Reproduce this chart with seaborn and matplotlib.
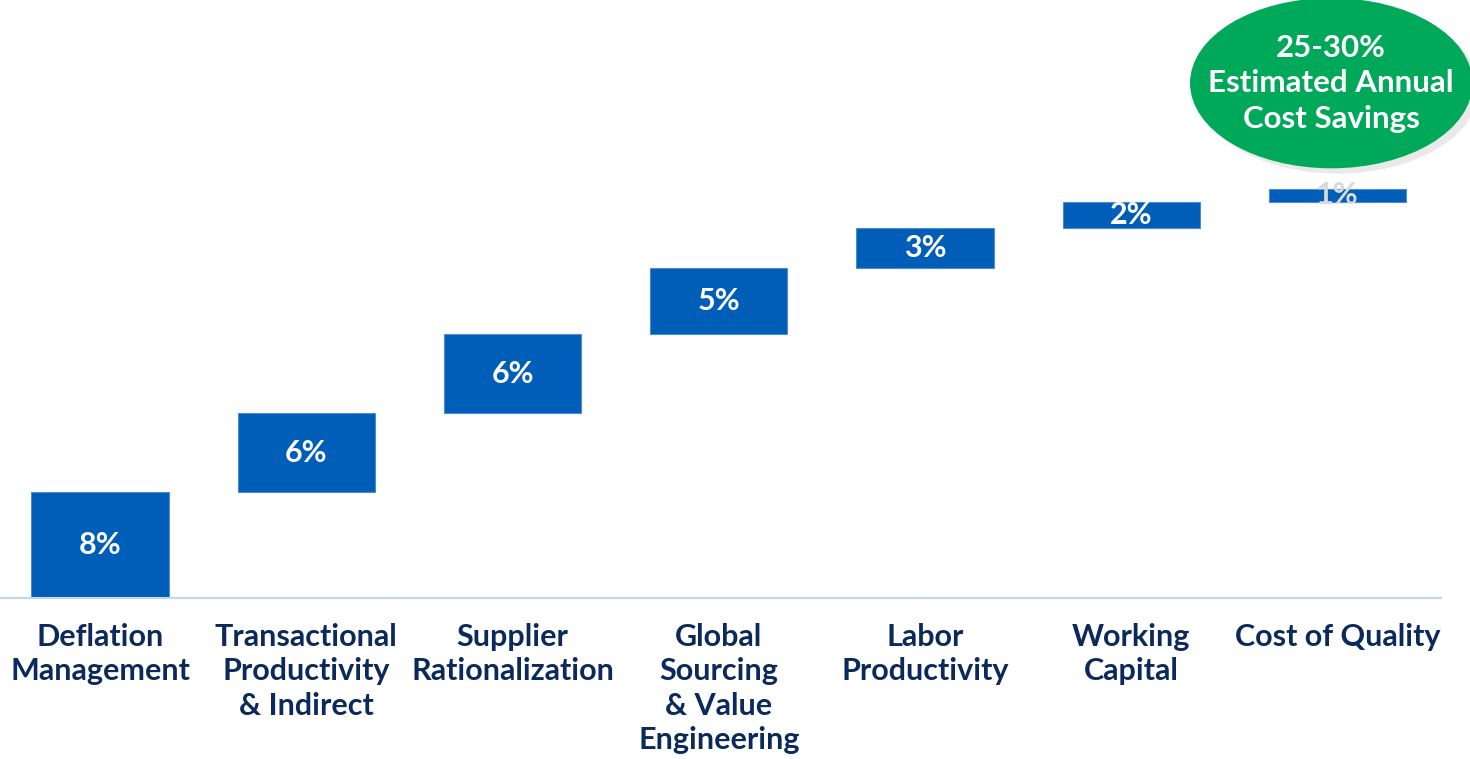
import numpy as np
import pandas as pd
import matplotlib
matplotlib.use("Agg")
import matplotlib.pyplot as plt
import seaborn as sns
from matplotlib.patches import Ellipse

categories = ["Deflation\nManagement", "Transactional\nProductivity\n& Indirect",
              "Supplier\nRationalization", "Global\nSourcing\n& Value\nEngineering",
              "Labor\nProductivity", "Working\nCapital", "Cost of Quality"]
savings = [8, 6, 6, 5, 3, 2, 1]
bubble_text = "25-30%\nEstimated Annual\nCost Savings"

bar_blue = "#005EB8"
navy = "#0B2A5B"
green = "#00A85A"

df = pd.DataFrame({"category": categories, "value": savings})
df["start"] = df["value"].cumsum() - df["value"]

sns.set_theme(style="white")
plt.rcParams["font.family"] = ["Lato", "DejaVu Sans"]

fig = plt.figure(figsize=(14.7, 7.59), dpi=100)
ax = fig.add_axes([0.0, 0.2121, 0.98, 0.7879])

sns.barplot(data=df, x="category", y="value", bottom=df["start"], color=bar_blue,
            width=0.665, edgecolor="#4F8BD2", linewidth=0.8, saturation=1, ax=ax)

ax.set_xlim(-0.485, 6.5)
ax.set_ylim(0, 45.3)

# value labels in the middle of every bar
for i, row in df.iterrows():
    txt_color = "#D9D9D9" if row["value"] == 1 else "white"
    ax.text(i, row["start"] + row["value"] / 2, f"{row['value']}%",
            ha="center", va="center", color=txt_color, fontsize=22,
            fontweight="bold", zorder=5)

# green bubble with the total
shadow = Ellipse((6.0, 38.6), 1.37, 12.9, facecolor="#D0D0D0", alpha=0.45,
                 edgecolor="none", clip_on=False, zorder=6)
bubble = Ellipse((5.97, 39.0), 1.37, 12.9, facecolor=green, edgecolor="none",
                 clip_on=False, zorder=7)
ax.add_patch(shadow)
ax.add_patch(bubble)
ax.text(5.97, 39.0, bubble_text, ha="center", va="center", color="white",
        fontsize=22.5, fontweight="bold", linespacing=1.33, zorder=8, clip_on=False)

# axis styling
ax.set_xlabel("")
ax.set_ylabel("")
ax.set_yticks([])
for side in ["top", "right", "left"]:
    ax.spines[side].set_visible(False)
ax.spines["bottom"].set_color("#BDD7F5")
ax.spines["bottom"].set_linewidth(1.5)
ax.tick_params(axis="x", length=0, pad=18, labelsize=22, labelcolor=navy)
for lbl in ax.get_xticklabels():
    lbl.set_fontweight("bold")
    lbl.set_linespacing(1.28)
    lbl.set_va("top")

fig.savefig("out.png", dpi=100)
